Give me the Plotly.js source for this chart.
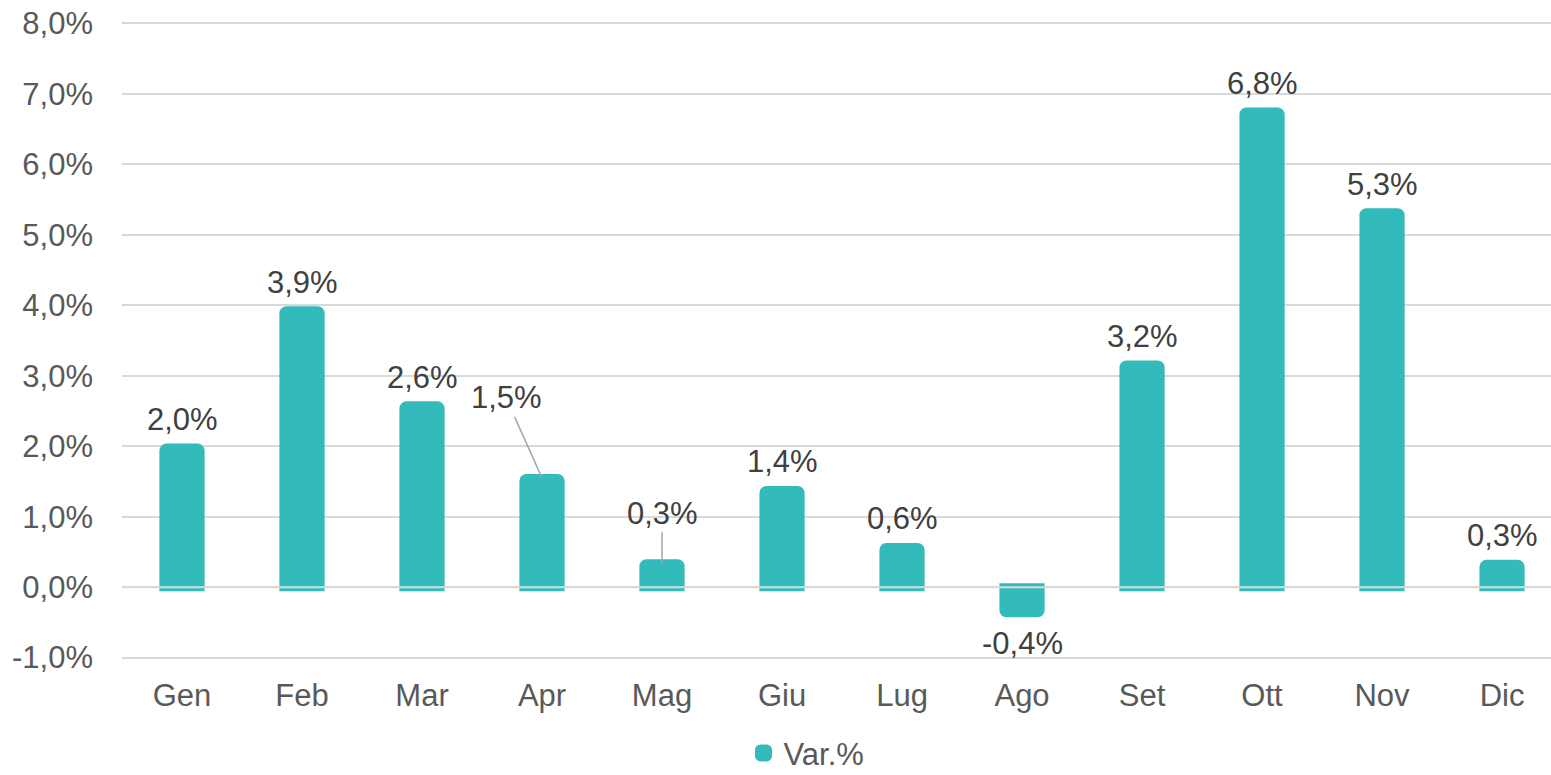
<!DOCTYPE html>
<html>
<head>
<meta charset="utf-8">
<script src="https://cdn.plot.ly/plotly-3.0.1.min.js"></script>
<style>html,body{margin:0;padding:0;background:#fff;}#chart{width:1551px;height:775px;}</style>
</head>
<body>
<div id="chart"></div>
<script>
const months = ["Gen","Feb","Mar","Apr","Mag","Giu","Lug","Ago","Set","Ott","Nov","Dic"];
const values = [1.98, 3.93, 2.58, 1.55, 0.34, 1.38, 0.57, -0.37, 3.16, 6.75, 5.32, 0.33];
const labels = ["2,0%","3,9%","2,6%","1,5%","0,3%","1,4%","0,6%","-0,4%","3,2%","6,8%","5,3%","0,3%"];
const seriesName = "Var.%";
const yTickVals = [-1,0,1,2,3,4,5,6,7,8];
const yTickText = ["-1,0%","0,0%","1,0%","2,0%","3,0%","4,0%","5,0%","6,0%","7,0%","8,0%"];
// label offsets (px) for the two labels with leader lines
const leader = {"Apr": {ax: -36, ay: -80}, "Mag": {ax: 0, ay: -50}};

const teal = "#33BBBB";
const font = "Liberation Sans, Arial, sans-serif";
const fs = 31;

const annotations = months.map((m, i) => {
  const v = values[i];
  if (leader[m]) {
    return {x: m, y: v, xref: "x", yref: "y", text: labels[i], showarrow: true,
      arrowhead: 0, arrowwidth: 1.5, arrowcolor: "#A6A6A6", ax: leader[m].ax, ay: leader[m].ay,
      font: {family: font, size: fs, color: "#404040"}};
  }
  return {x: m, y: v, xref: "x", yref: "y", text: labels[i], showarrow: false,
    yanchor: "middle", yshift: v >= 0 ? 28 : -30,
    font: {family: font, size: fs, color: "#404040"}};
});

const trace = {
  type: "bar", x: months, y: values, name: seriesName,
  width: 0.31,
  marker: {color: teal, cornerradius: 3, line: {color: teal, width: 8}},
  hoverinfo: "x+y", showlegend: true
};

const layout = {
  width: 1551, height: 775,
  margin: {l: 122, r: 0, t: 22, b: 116, pad: 0, autoexpand: false},
  paper_bgcolor: "#fff", plot_bgcolor: "#fff",
  font: {family: font, size: fs, color: "#595959"},
  xaxis: {type: "category", range: [-0.5, 11.408], showgrid: false, zeroline: false,
    showline: false, ticks: "", ticklabelstandoff: 15, automargin: false,
    tickfont: {family: font, size: fs, color: "#595959"}},
  yaxis: {range: [-1.02, 8.02], tickvals: yTickVals, ticktext: yTickText, showgrid: true,
    gridcolor: "#D9D9D9", gridwidth: 2, zeroline: false, showline: false, ticks: "",
    ticklabelstandoff: 28, automargin: false, tickfont: {family: font, size: fs, color: "#595959"}},
  shapes: [{type: "line", xref: "paper", yref: "y", x0: 0, x1: 1, y0: 0, y1: 0,
    line: {color: "#D9D9D9", width: 2}, layer: "above"}],
  annotations: annotations,
  showlegend: true,
  legend: {orientation: "h", x: 0.479, xanchor: "center", y: -0.148, yanchor: "middle",
    font: {family: font, size: fs, color: "#595959"}, itemwidth: 30, tracegroupgap: 0},
  bargap: 0.6
};

Plotly.newPlot("chart", [trace], layout, {displayModeBar: false, staticPlot: true});
</script>
</body>
</html>
